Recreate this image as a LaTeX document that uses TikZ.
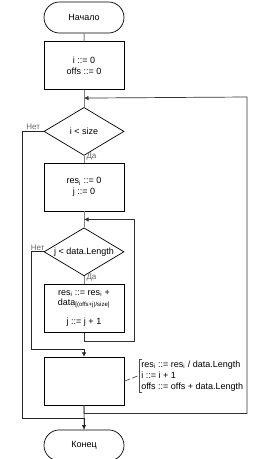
\documentclass[tikz,border=0pt]{standalone}
\usepackage{fontspec}
\setmainfont{Liberation Sans}
\usepackage{xcolor}
\usetikzlibrary{arrows.meta,positioning,shapes.geometric,shapes.misc}
\definecolor{FlowGray}{HTML}{7F7F7F}
\tikzset{
  terminal/.style={draw,rounded rectangle,minimum width=80pt,minimum height=31pt,
    inner sep=0pt,font=\fontsize{9}{11}\selectfont},
  process/.style={draw,rectangle,minimum width=80pt,minimum height=48pt,
    inner sep=0pt,align=center,font=\fontsize{9}{11}\selectfont},
  decision/.style={draw,diamond,aspect=1.667,minimum width=80pt,minimum height=48pt,
    inner sep=0pt,font=\fontsize{9}{11}\selectfont},
  flow/.style={draw=FlowGray,line width=1pt},
  branch/.style={draw=black!85,line width=0.7pt},
  loopback/.style={draw=black!80,line width=0.7pt},
  tip/.style={-{Latex[length=4.5pt,width=4.5pt]}},
  answer/.style={font=\fontsize{8}{9}\selectfont,text=black!60,inner sep=1pt},
  memo/.style={align=left,inner xsep=1.5pt,inner ysep=1pt,font=\fontsize{9}{11}\selectfont}
}

\begin{document}
\begin{tikzpicture}[x=1pt,y=-1pt,line width=0.7pt]
  \useasboundingbox (0,0) rectangle (272,459);
  \node[terminal] (start) at (84,17.5) {Начало};
  \node[process,below=8pt of start] (init) {i ::= 0\\offs ::= 0};
  \coordinate[below=8pt of init.south] (join1);
  \node[decision,below=17pt of init] (cond1) {i < size};
  \node[process,below=7pt of cond1] (body1) {res\textsubscript{i} ::= 0\\j ::= 0};
  \coordinate[below=8pt of body1.south] (join2);
  \node[decision,below=16pt of body1] (cond2) {j < data.Length};
  \node[process,below=8pt of cond2,font=\fontsize{9}{10}\selectfont] (body2)
    {res\textsubscript{i} ::= res\textsubscript{i} +\\data\textsubscript{[(offs+j)/size]}\\[9pt]j ::= j + 1};
  \node[process,below=24pt of body2] (after) {};
  \node[terminal,below=24pt of after] (stop) {Конец};
  \coordinate[above=8pt of after.north] (exit2);
  \coordinate[above=11pt of stop.north] (exit1);
  \coordinate (ret1) at (247,97);
  \coordinate[right=10pt of body2.east] (ret2);
  \node[memo,anchor=west] (note) at (139.5,376)
    {res\textsubscript{i} ::= res\textsubscript{i} / data.Length\\i ::= i + 1\\offs ::= offs + data.Length};

  \draw[flow] (start) -- (init);
  \draw[flow] (init) -- (cond1);
  \draw[flow] (cond1) -- node[answer,pos=0,anchor=west,xshift=1pt,yshift=-1pt] {Да} (body1);
  \draw[flow] (body1) -- (cond2);
  \draw[flow] (cond2) -- node[answer,pos=0,anchor=west,xshift=1pt,yshift=-1pt] {Да} (body2);
  \draw[flow] (after) -- (stop);

  \draw[loopback,tip] (body2.south) -- ++(0,8) -| (ret2 |- join2) -- (join2);
  \draw[loopback,tip] (after.south) -- ++(0,8) -| (ret1) -- (join1);
  \draw[branch,tip] (cond2.west) -- node[answer,above] {Нет} ++(-12,0) |- (exit2) -- (after.north);
  \draw[branch,tip] (cond1.west) -- node[answer,above] {Нет} ++(-21,0) |- (exit1) -- (stop.north);

  \draw[draw=black!70,dash pattern=on 6pt off 2.5pt] (after.east) -- ([xshift=-2pt]note.west);
  \draw[draw=black!70] ([xshift=2.5pt]note.north west) -- (note.north west)
    -- (note.south west) -- ([xshift=2.5pt]note.south west);
\end{tikzpicture}
\end{document}
